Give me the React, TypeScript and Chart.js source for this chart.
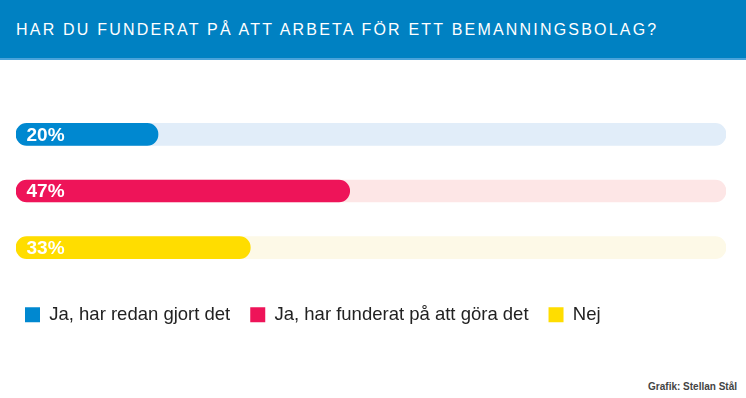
import React, { useEffect, useRef } from "react";
import { Chart, registerables } from "chart.js";

Chart.register(...registerables);

const titleText = "HAR DU FUNDERAT PÅ ATT ARBETA FÖR ETT BEMANNINGSBOLAG?";
const creditText = "Grafik: Stellan Stål";
const categories = ["Ja, har redan gjort det", "Ja, har funderat på att göra det", "Nej"];
const values = [20, 47, 33];
const trackValues = [100, 100, 100];
const barColors = ["#0088D0", "#EE1459", "#FFDD00"];
const trackColors = ["#E1EDF9", "#FDE6E6", "#FDF9E7"];

const FONT = "'Liberation Sans', Arial, Helvetica, sans-serif";

const valueLabels = {
  id: "valueLabels",
  afterDatasetsDraw(chart: any) {
    const ctx = chart.ctx;
    ctx.save();
    ctx.fillStyle = "#ffffff";
    ctx.font = `bold 19px ${FONT}`;
    ctx.textAlign = "left";
    ctx.textBaseline = "middle";
    categories.forEach((_, i) => {
      const meta = chart.getDatasetMeta(i);
      const el: any = meta.data[i];
      if (!el) return;
      ctx.fillText(`${values[i]}%`, el.base + 10.5, el.y + 1);
    });
    ctx.restore();
  },
};

export default function App() {
  const ref = useRef<HTMLCanvasElement | null>(null);

  useEffect(() => {
    if (!ref.current) return;
    const datasets: any[] = categories.map((name, i) => ({
      label: name,
      data: categories.map((_, j) => (j === i ? values[i] : null)),
      backgroundColor: barColors[i],
      borderWidth: 0,
      borderRadius: 11,
      borderSkipped: false,
      barThickness: 22,
      grouped: false,
    }));
    datasets.push({
      label: "track",
      data: trackValues,
      backgroundColor: trackColors,
      borderWidth: 0,
      borderRadius: 11,
      borderSkipped: false,
      barThickness: 22,
      grouped: false,
    });
    const chart = new Chart(ref.current, {
      type: "bar",
      data: { labels: categories, datasets },
      plugins: [valueLabels],
      options: {
        indexAxis: "y",
        animation: false,
        responsive: false,
        maintainAspectRatio: false,
        layout: { padding: { left: 5, right: 20, top: 46, bottom: 16 } },
        scales: {
          x: {
            min: 0,
            max: 100,
            display: true,
            grid: { display: false },
            border: { display: false },
            ticks: { display: false },
            afterFit: (s: any) => {
              s.height = 9.5;
            },
          },
          y: {
            display: true,
            grid: { display: false },
            border: { display: false },
            ticks: { display: false },
            afterFit: (s: any) => {
              s.width = 11;
            },
          },
        },
        plugins: {
          title: { display: false },
          tooltip: { enabled: false },
          legend: {
            display: true,
            position: "bottom",
            align: "start",
            labels: {
              filter: (item: any) => item.datasetIndex < categories.length,
              boxWidth: 15,
              boxHeight: 15,
              padding: 20,
              color: "#222222",
              font: { family: FONT, size: 18.5 },
            },
          },
        },
      } as any,
    });
    return () => chart.destroy();
  }, []);

  return (
    <div
      style={{
        position: "fixed",
        left: 0,
        top: 0,
        width: 746,
        height: 398,
        background: "#ffffff",
        fontFamily: FONT,
        overflow: "hidden",
      }}
    >
      <div
        style={{
          position: "absolute",
          left: 0,
          top: 0,
          width: 746,
          height: 58,
          background: "#0081C2",
          borderBottom: "2px solid #4AA3DA",
        }}
      >
        <div
          style={{
            position: "absolute",
            left: 16,
            top: 21.5,
            fontSize: 16,
            lineHeight: "16px",
            letterSpacing: "2.2px",
            color: "#ffffff",
            whiteSpace: "nowrap",
          }}
        >
          {titleText}
        </div>
      </div>
      <canvas
        ref={ref}
        width={746}
        height={290}
        style={{ position: "absolute", left: 0, top: 60, width: 746, height: 290 }}
      />
      <div
        style={{
          position: "absolute",
          right: 9,
          top: 381.5,
          fontSize: 10,
          lineHeight: "10px",
          fontWeight: "bold",
          color: "#444444",
          whiteSpace: "nowrap",
        }}
      >
        {creditText}
      </div>
    </div>
  );
}
